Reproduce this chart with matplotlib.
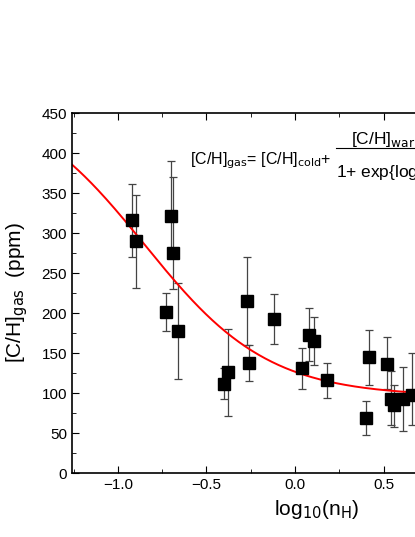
import numpy as np
import matplotlib.pyplot as plt
from matplotlib.lines import Line2D

plt.rcParams['font.family'] = ['Liberation Sans', 'DejaVu Sans']
plt.rcParams['font.size'] = 11

log_nh = [-0.92, -0.90, -0.70, -0.69, -0.73, -0.66, -0.40, -0.38, -0.27, -0.26, -0.12,
          0.04, 0.08, 0.11, 0.18, 0.40, 0.42, 0.52, 0.54, 0.56, 0.61, 0.66]
ch_gas = [317, 290, 321, 275, 202, 178, 112, 126, 215, 138, 193,
          131, 173, 165, 116, 69, 145, 137, 93, 85, 93, 98]
err_lo = [47, 58, 45, 45, 24, 60, 19, 54, 55, 23, 31,
          26, 33, 30, 22, 21, 35, 32, 33, 27, 40, 38]
err_hi = [45, 58, 69, 95, 23, 60, 20, 54, 55, 22, 31,
          26, 34, 30, 22, 21, 34, 33, 35, 25, 40, 52]

# fitted sigmoid parameters
ch_cold = 96
ch_warm = 380
x0 = -0.85
dx = 0.35

fig = plt.figure(figsize=(4.15, 5.37), dpi=100)
ax = fig.add_axes([0.173, 0.119, 1.178, 0.670])

ax.errorbar(log_nh, ch_gas, yerr=[err_lo, err_hi], fmt='s', color='black',
            ms=8.5, ecolor='#444444', elinewidth=0.9, capsize=3, capthick=0.9)
xf = np.linspace(-1.3, 1.5, 300)
ax.plot(xf, ch_cold + ch_warm / (1 + np.exp((xf - x0) / dx)), color='red', lw=1.4)

ax.set_xlim(-1.26, 1.5)
ax.set_ylim(0, 450)
ax.set_yticks(np.arange(0, 451, 50))
ax.set_xticks([-1.0, -0.5, 0.0, 0.5, 1.0, 1.5])
ax.set_xticks(np.arange(-1.25, 1.5, 0.25), minor=True)
ax.set_yticks(np.arange(25, 450, 50), minor=True)
ax.tick_params(which='both', direction='in', top=True, right=True)
ax.tick_params(which='major', length=5)
ax.tick_params(which='minor', length=3)
for s in ax.spines.values():
    s.set_linewidth(1.2)

ax.set_xlabel(r'log$_{10}$(n$_{\rm H}$)', fontsize=15)
fig.text(0.04, 0.455, r'[C/H]$_{\rm gas}$  (ppm)', rotation=90, fontsize=15,
         va='center', ha='center')

fig.text(0.458, 0.694, r'[C/H]$_{\rm gas}$= [C/H]$_{\rm cold}$+', fontsize=11.5)
fig.text(0.845, 0.731, r'[C/H]$_{\rm warm}$', fontsize=12.5)
fig.text(0.81, 0.671, r'1+ exp{log$_{10}$(n$_{\rm H}$/n$_0$)/$\Delta$}', fontsize=12.5)
fig.add_artist(Line2D([0.81, 1.4], [0.725, 0.725], color='black', lw=0.8,
                      transform=fig.transFigure))

fig.savefig('out.png', dpi=100)
